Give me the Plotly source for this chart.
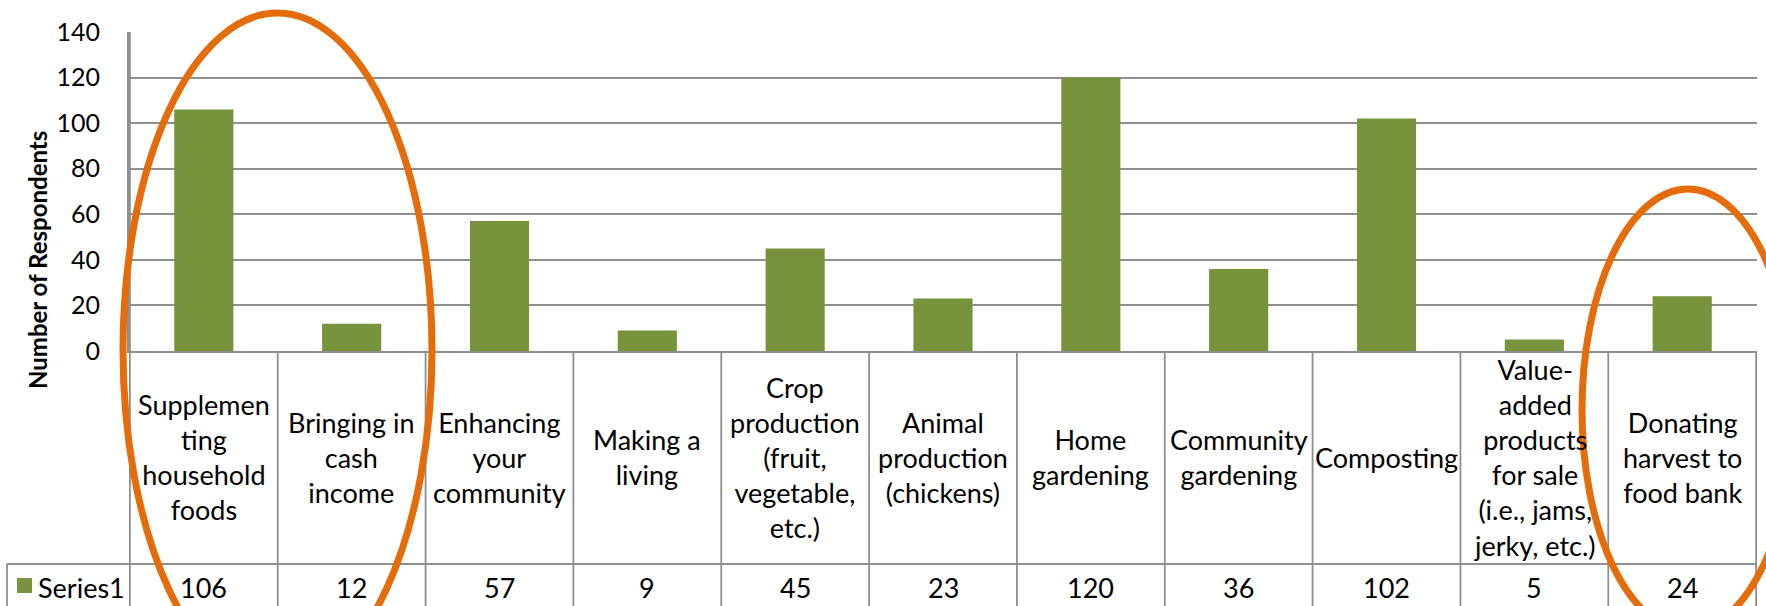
import plotly.graph_objects as go

# ---- data ----
categories = [
    "Supplementing household foods",
    "Bringing in cash income",
    "Enhancing your community",
    "Making a living",
    "Crop production (fruit, vegetable, etc.)",
    "Animal production (chickens)",
    "Home gardening",
    "Community gardening",
    "Composting",
    "Value-added products for sale (i.e., jams, jerky, etc.)",
    "Donating harvest to food bank",
]
category_labels = [
    "Supplemen<br>ting<br>household<br>foods",
    "Bringing in<br>cash<br>income",
    "Enhancing<br>your<br>community",
    "Making a<br>living",
    "Crop<br>production<br>(fruit,<br>vegetable,<br>etc.)",
    "Animal<br>production<br>(chickens)",
    "Home<br>gardening",
    "Community<br>gardening",
    "Composting",
    "Value-<br>added<br>products<br>for sale<br>(i.e., jams,<br>jerky, etc.)",
    "Donating<br>harvest to<br>food bank",
]
series_name = "Series1"
values = [106, 12, 57, 9, 45, 23, 120, 36, 102, 5, 24]
y_ticks = [0, 20, 40, 60, 80, 100, 120, 140]
y_title = "Number of Respondents"

# ---- geometry (pixels) ----
W, H = 1766, 606
PL, PR, PT, PB = 129, 1757, 32, 351
FONT = "Lato, 'Open Sans', sans-serif"
GREEN = "#77933C"
ORANGE = "#E46C0A"
GRID = "#8f8f8f"
LW = 1.8
TXT = 27


def px_x(px):
    return (px - PL) / (PR - PL)


def px_y(py):
    return (PB - py) / (PB - PT)


fig = go.Figure()
fig.add_trace(go.Bar(
    x=categories, y=values, name=series_name,
    marker=dict(color=GREEN, line=dict(width=0)),
    showlegend=False,
))

shapes = []
# table vertical lines at category boundaries
for i in range(len(categories) + 1):
    shapes.append(dict(type="line", xref="x", yref="paper",
                       x0=i - 0.5, x1=i - 0.5, y0=1 if i == 0 else 0, y1=px_y(640),
                       line=dict(color=GRID, width=LW), layer="above"))
# series row top line
shapes.append(dict(type="line", xref="paper", yref="paper",
                   x0=px_x(7), x1=1, y0=px_y(564), y1=px_y(564),
                   line=dict(color=GRID, width=LW), layer="above"))
# left border of series label cell
shapes.append(dict(type="line", xref="paper", yref="paper",
                   x0=px_x(7), x1=px_x(7), y0=px_y(564), y1=px_y(640),
                   line=dict(color=GRID, width=LW), layer="above"))
# legend key
shapes.append(dict(type="rect", xref="paper", yref="paper",
                   x0=px_x(17), x1=px_x(32), y0=px_y(593), y1=px_y(578),
                   fillcolor=GREEN, line=dict(width=0), layer="above"))
# orange highlight ellipses
for cx, cy, rx, ry in [(277.5, 350, 154.5, 337), (1688, 410, 106, 221)]:
    shapes.append(dict(type="circle", xref="paper", yref="paper",
                       x0=px_x(cx - rx), x1=px_x(cx + rx),
                       y0=px_y(cy + ry), y1=px_y(cy - ry),
                       line=dict(color=ORANGE, width=7), layer="above"))

annotations = []
for cat, lab, v in zip(categories, category_labels, values):
    annotations.append(dict(x=cat, xref="x", y=px_y(457), yref="paper",
                            text=lab, showarrow=False, xanchor="center", yanchor="middle",
                            align="center", font=dict(family=FONT, size=TXT, color="black")))
    annotations.append(dict(x=cat, xref="x", y=px_y(587), yref="paper",
                            text=str(v), showarrow=False, xanchor="center", yanchor="middle",
                            font=dict(family=FONT, size=TXT, color="black")))
annotations.append(dict(x=px_x(36), xref="paper", y=px_y(587), yref="paper",
                        text=series_name, showarrow=False, xanchor="left", yanchor="middle",
                        font=dict(family=FONT, size=TXT, color="black")))
annotations.append(dict(x=px_x(37), xref="paper", y=px_y(260), yref="paper",
                        text="<b>" + y_title + "</b>", showarrow=False, textangle=-90,
                        xanchor="center", yanchor="middle",
                        font=dict(family=FONT, size=24, color="black")))

fig.update_layout(
    width=W, height=H,
    margin=dict(l=PL, r=W - PR, t=PT, b=H - PB, pad=0),
    paper_bgcolor="white", plot_bgcolor="white",
    bargap=0.6,
    shapes=shapes, annotations=annotations,
    font=dict(family=FONT, color="black"),
    xaxis=dict(showticklabels=False, ticks="", showgrid=False, zeroline=False,
               showline=True, linecolor=GRID, linewidth=LW),
    yaxis=dict(range=[0, 140], tickvals=y_ticks, ticktext=[str(t) for t in y_ticks],
               showgrid=True, gridcolor=GRID, gridwidth=LW, zeroline=False,
               showline=True, linecolor=GRID, linewidth=LW, ticks="",
               ticklabelstandoff=22,
               tickfont=dict(family=FONT, size=25, color="black")),
)

fig.write_html("out.html", config={"displayModeBar": False},
               post_script="document.body.style.margin='0';document.body.style.overflow='hidden';")
